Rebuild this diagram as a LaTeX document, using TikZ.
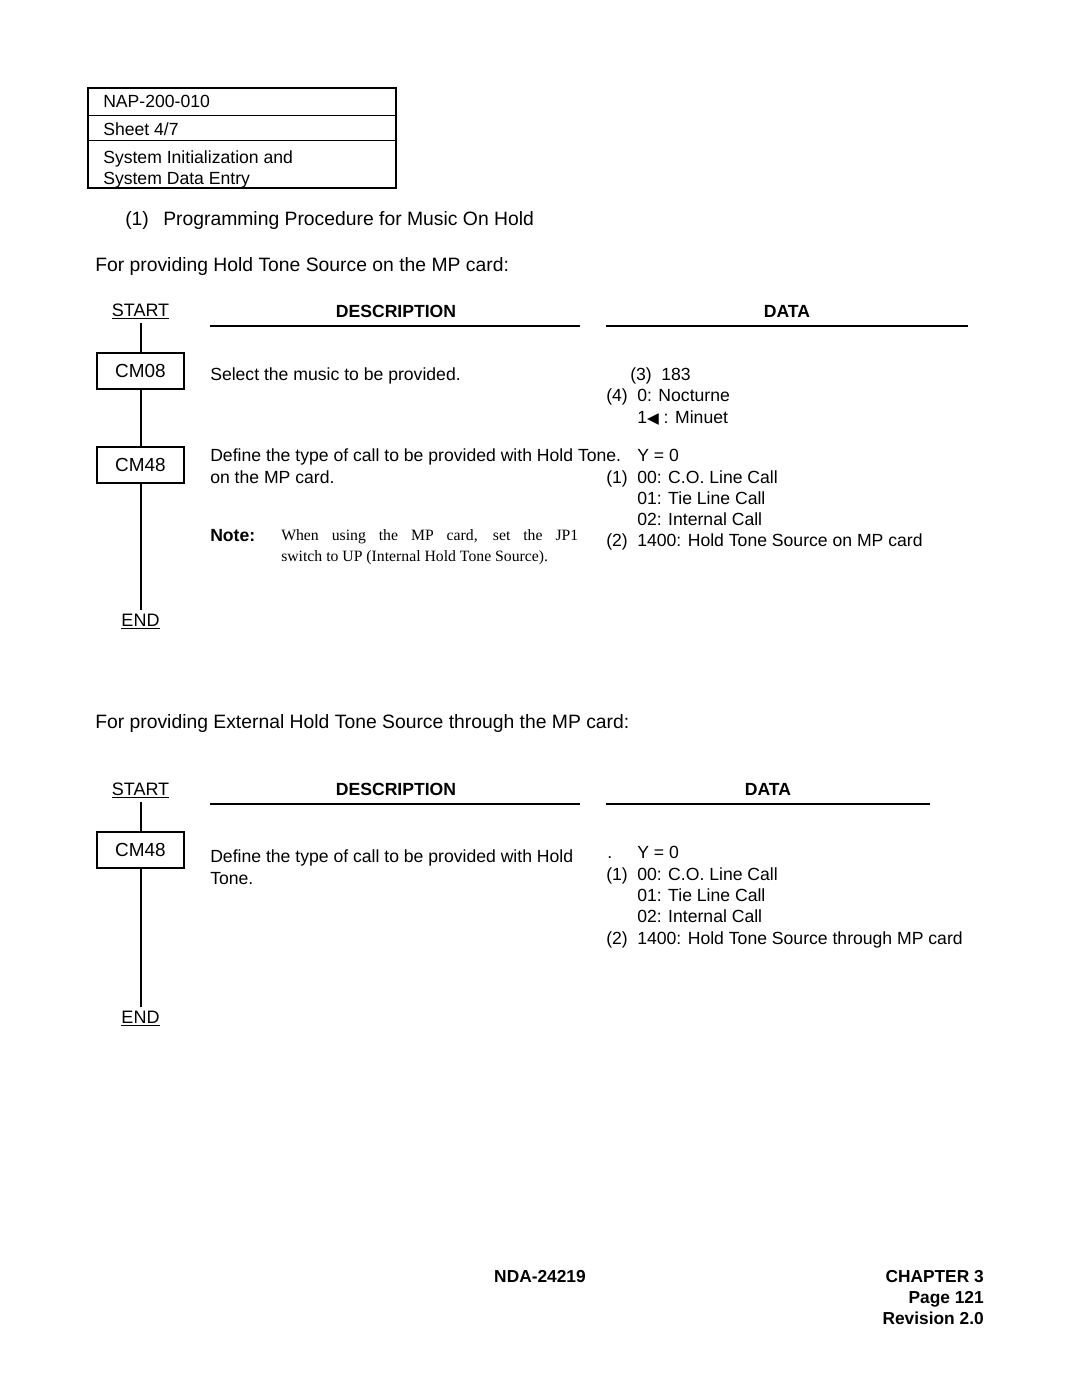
\documentclass[tikz,border=0pt]{standalone}
\usepackage{fontspec}
\setmainfont{Liberation Sans}
\newfontfamily\serifnote{Liberation Serif}
\newfontfamily\symfont{DejaVu Sans}
\usepackage{tikz}

\tikzset{
  txt/.style={anchor=base west, inner sep=0pt, font=\fontsize{13.2}{15.75}\selectfont},
  head/.style={anchor=base west, inner sep=0pt, font=\fontsize{14.5}{17}\selectfont},
  colhead/.style={anchor=base, inner sep=0pt, font=\fontsize{13.2}{15.75}\selectfont\bfseries},
  footr/.style={anchor=base east, inner sep=0pt, font=\fontsize{13}{15.75}\selectfont\bfseries},
  flowlbl/.style={anchor=base, inner sep=0pt, outer ysep=3pt, font=\fontsize{13.5}{16}\selectfont},
  cmbox/.style={draw, line width=1.1pt, minimum width=65pt, minimum height=27pt, inner sep=0pt, font=\fontsize{14.2}{16}\selectfont},
  flow/.style={line width=1.5pt},
  rule/.style={line width=1.4pt},
  notetxt/.style={anchor=base west, inner sep=0pt, text width=222.75pt, align=justify, font=\fontsize{11.8}{15.75}\serifnote},
}

\begin{document}
\begin{tikzpicture}[x=0.75pt,y=0.75pt,yscale=-1,xscale=1]
        \useasboundingbox (0,0) rectangle (1080,1397);
        % Sheet header box
        \draw [line width=1.2pt] (88,88) rectangle (396,188) ;
        \draw [line width=0.6pt] (88,115) -- (396,115) ;
        \draw [line width=0.6pt] (88,140) -- (396,140) ;
        \node [txt] (napno) at (103,107) {NAP-200-010};
        \node [txt] (sheet) at (103,135) {Sheet 4/7};
        \node [txt] (sysA) at (103,163) {System Initialization and};
        \node [txt] (sysB) at (103,184) {System Data Entry};
        % Titles
        \node [head] (procno) at (125,225) {(1)};
        \node [head] (proc) at (163,225) {Programming Procedure for Music On Hold};
        \node [head] (titleA) at (95,271) {For providing Hold Tone Source on the MP card:};

        %%% first procedure
        % Column heads
        \node [colhead] (descA) at (396,317) {DESCRIPTION};
        \node [colhead] (dataA) at (787,317) {DATA};
        \draw [rule] (210,326) -- (580,326) ;
        \draw [rule] (606,326) -- (968,326) ;
        % Flow
        \node [flowlbl] (startA) at (140.5,316) {\underline{START}};
        \node [cmbox] (cmA) at (140.5,371) {CM08};
        \node [cmbox] (cmB) at (140.5,465) {CM48};
        \node [flowlbl] (endA) at (140.5,626) {\underline{END}};
        \draw [flow] (startA.south) -- (cmA.north) ;
        \draw [flow] (cmA.south) -- (cmB.north) ;
        \draw [flow] (cmB.south) -- (endA.north) ;
        % Text Node
        \node [txt] (selmus) at (210,380) {Select the music to be provided.};
        \node [txt] (nA3) at (630,380) {(3)};
        \node [txt] (dA183) at (661,380) {183};
        \node [txt] (nA4) at (606,401) {(4)};
        \node [txt] (dAnoc) at (637,401) {0: Nocturne};
        \node [txt] (dAmin) at (637,423) {1{\symfont\fontsize{11.5}{11}\selectfont ◀} : Minuet};
        % Text Node
        \node [txt] (defA) at (210,461) {Define the type of call to be provided with Hold Tone.};
        \node [txt] (defB) at (210,483) {on the MP card.};
        \node [txt, font=\fontsize{13.2}{15.75}\selectfont\bfseries] (noteA) at (210,541) {Note:};
        \node [notetxt] (noteB) at (281,540) {When using the MP card, set the JP1\linebreak switch to UP (Internal Hold Tone Source).};
        \node [txt] (dAy) at (637,461) {Y = 0};
        \node [txt] (nA1) at (606,483) {(1)};
        \node [txt] (dAco) at (637,483) {00: C.O. Line Call};
        \node [txt] (dAtie) at (637,504) {01: Tie Line Call};
        \node [txt] (dAint) at (637,525) {02: Internal Call};
        \node [txt] (nA2) at (606,546) {(2)};
        \node [txt] (dAsrc) at (637,546) {1400: Hold Tone Source on MP card};

        %%% second procedure
        \node [head] (titleB) at (95,728) {For providing External Hold Tone Source through the MP card:};
        \node [colhead] (descB) at (396,795) {DESCRIPTION};
        \node [colhead] (dataB) at (768,795) {DATA};
        \draw [rule] (210,804) -- (580,804) ;
        \draw [rule] (606,804) -- (930,804) ;
        % Flow
        \node [flowlbl] (startB) at (140.5,795) {\underline{START}};
        \node [cmbox] (cmC) at (140.5,850) {CM48};
        \node [flowlbl] (endB) at (140.5,1023) {\underline{END}};
        \draw [flow] (startB.south) -- (cmC.north) ;
        \draw [flow] (cmC.south) -- (endB.north) ;
        % Text Node
        \node [txt] (defC) at (210,862) {Define the type of call to be provided with Hold};
        \node [txt] (defD) at (210,884) {Tone.};
        \node [txt] (dBdot) at (607,858) {.};
        \node [txt] (dBy) at (637,858) {Y = 0};
        \node [txt] (nB1) at (606,880) {(1)};
        \node [txt] (dBco) at (637,880) {00: C.O. Line Call};
        \node [txt] (dBtie) at (637,901) {01: Tie Line Call};
        \node [txt] (dBint) at (637,922) {02: Internal Call};
        \node [txt] (nB2) at (606,944) {(2)};
        \node [txt] (dBsrc) at (637,944) {1400: Hold Tone Source through MP card};

        % Footer
        \node [colhead, font=\fontsize{13}{15.75}\selectfont\bfseries] (docno) at (540,1282) {NDA-24219};
        \node [footr] (chap) at (984,1282) {CHAPTER 3};
        \node [footr] (page) at (984,1303) {Page 121};
        \node [footr] (rev) at (984,1324) {Revision 2.0};
\end{tikzpicture}
\end{document}
